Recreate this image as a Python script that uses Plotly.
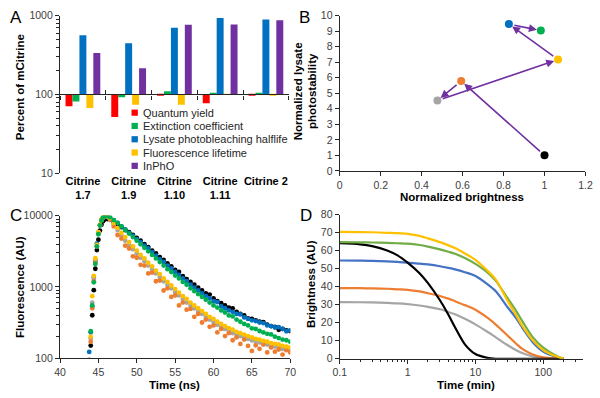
import plotly.graph_objects as go

W, H = 600, 398
FONT = "Arial, Liberation Sans, sans-serif"
AXC = "#262626"
TXC = "#404040"

# ---------------- Panel A data ----------------
variants = ["Citrine 1.7", "Citrine 1.9", "Citrine 1.10", "Citrine 1.11", "Citrine 2"]
variant_labels = ["Citrine<br>1.7", "Citrine<br>1.9", "Citrine<br>1.10", "Citrine<br>1.11", "Citrine 2"]
quantum_yield = [70.5, 51.5, 97, 77, 97]
extinction_coef = [81, 92, 110, 103, 103]
lysate_halflife = [566, 447, 704, 936, 893]
fluor_lifetime = [67, 74, 74, 99.5, 97.5]
inpho = [336, 215, 767, 774, 875]
a_names = ["Quantum yield", "Extinction coefficient", "Lysate photobleaching halflife",
           "Fluorescence lifetime", "InPhO"]
a_colors = ["#FF0000", "#00B050", "#0070C0", "#FFC000", "#7030A0"]
a_series = [quantum_yield, extinction_coef, lysate_halflife, fluor_lifetime, inpho]
a_baseline = 100

# ---------------- Panel B data ----------------
b_brightness = [1.0, 0.593, 0.477, 1.066, 0.826, 0.982]
b_photostab = [1.0, 5.79, 4.54, 7.17, 9.46, 9.04]
b_colors = ["#000000", "#ED7D31", "#A5A5A5", "#FFC000", "#0070C0", "#00B050"]

# ---------------- Panel C data ----------------
c_time = [43.8, 44.0, 44.2, 44.4, 44.6, 44.8, 45.0, 45.2, 45.4, 45.6, 45.8, 46.0, 46.2,
          46.5, 47.0, 47.5, 48.0, 48.5, 49.0, 49.5, 50.0, 50.5, 51.0, 51.5, 52.0, 52.5,
          53.0, 53.5, 54.0, 54.5, 55.0, 55.5, 56.0, 56.5, 57.0, 57.5, 58.0, 58.5, 59.0,
          59.5, 60.0, 60.5, 61.0, 61.5, 62.0, 62.5, 63.0, 63.5, 64.0, 64.5, 65.0, 65.5,
          66.0, 66.5, 67.0, 67.5, 68.0, 68.5, 69.0, 69.5, 70.0]
c_black = [50, 150, 400, 900, 1800, 3300, 4600, 6200, 7500, 8400, 8900, 9100, 9000,
           8913, 8128, 7586, 6918, 6310, 5888, 5370, 4898, 4467, 3981, 3631, 3236, 2951,
           2630, 2399, 2138, 1950, 1738, 1620, 1413, 1288, 1175, 1072, 977, 891, 813,
           780, 692, 631, 589, 550, 513, 500, 447, 417, 398, 360, 355, 339,
           324, 320, 295, 282, 275, 250, 257, 245, 240]
c_blue = [122, 230, 530, 1380, 2300, 4070, 5800, 7400, 8700, 9400, 9800, 9950, 9800,
          9550, 8710, 7943, 7079, 6457, 5754, 5248, 4677, 4266, 3802, 3467, 3090, 2754,
          2455, 2239, 1995, 1820, 1622, 1479, 1318, 1202, 1072, 977, 891, 813, 741,
          692, 631, 610, 537, 501, 468, 447, 417, 410, 372, 355, 339, 331,
          316, 310, 288, 282, 269, 272, 257, 238, 245]
c_gray = [95, 190, 600, 1300, 2400, 3800, 5800, 7400, 8700, 9500, 9900, 10000, 9800,
          9120, 7586, 6310, 5248, 4467, 3890, 3388, 2951, 2570, 2291, 1995, 1778, 1549,
          1380, 1202, 1072, 955, 851, 759, 676, 603, 550, 501, 457, 417, 380,
          347, 324, 295, 275, 257, 240, 224, 214, 204, 195, 186, 178, 170,
          166, 158, 155, 148, 145, 141, 135, 132, 129]
c_orange = [70, 170, 500, 1200, 2200, 3700, 5600, 7300, 8600, 9400, 9800, 9950, 9700,
            8913, 7079, 5370, 4786, 3802, 3467, 2692, 2570, 2042, 1995, 1549, 1585, 1202,
            1230, 891, 955, 724, 759, 550, 603, 479, 490, 380, 417, 316, 347,
            275, 288, 229, 257, 204, 224, 178, 195, 158, 182, 148, 126, 151,
            135, 155, 120, 141, 123, 132, 112, 129, 120]
c_yellow = [80, 200, 740, 1430, 2530, 3900, 5900, 7500, 8800, 9500, 9900, 10000, 9800,
            9333, 7943, 6761, 5754, 5012, 4266, 3715, 3236, 2818, 2512, 2188, 1950, 1698,
            1514, 1318, 1175, 1047, 933, 832, 741, 676, 603, 550, 501, 457, 417,
            380, 355, 324, 302, 282, 263, 251, 234, 224, 214, 204, 195, 186,
            182, 174, 170, 162, 158, 155, 148, 145, 141]
c_green = [90, 238, 550, 1160, 2100, 3700, 5500, 7300, 8600, 9400, 9800, 10000, 9900,
           9550, 8710, 7943, 7079, 6310, 5623, 5012, 4467, 3981, 3548, 3162, 2818, 2512,
           2239, 1995, 1778, 1622, 1445, 1318, 1175, 1072, 955, 871, 794, 724, 661,
           603, 550, 513, 468, 437, 398, 385, 347, 324, 302, 288, 262, 257,
           240, 229, 219, 215, 200, 191, 182, 178, 170]
c_series = [(c_black, "#000000"), (c_blue, "#0070C0"), (c_gray, "#A5A5A5"),
            (c_orange, "#ED7D31"), (c_yellow, "#FFC000"), (c_green, "#00B050")]

# ---------------- Panel D data ----------------
d_time = [0.1, 0.2, 0.3, 0.5, 0.7, 1, 1.5, 2, 3, 4, 5, 7, 10, 15, 20, 30, 40, 50, 70, 100, 150, 200]
d_yellow = [70.5, 70.4, 70.3, 70.0, 69.8, 69.4, 68.3, 66.9, 64.8, 63.0, 61.5, 58.5, 55.0, 49.0,
            44.0, 32.0, 24.0, 17.8, 10.2, 4.8, 1.5, 0]
d_green = [64.8, 64.7, 64.6, 64.4, 64.2, 64.0, 63.2, 62.3, 60.8, 59.5, 58.4, 56.0, 52.7, 48.0,
           43.3, 33.5, 26.5, 20.5, 12.0, 6.2, 2.0, 0]
d_blue = [54.6, 54.5, 54.4, 54.1, 53.8, 53.4, 52.9, 52.4, 51.4, 50.5, 49.7, 48.1, 46.0, 41.5,
          37.5, 28.5, 22.5, 16.8, 9.2, 4.0, 1.2, 0]
d_orange = [39.3, 39.2, 39.1, 38.9, 38.6, 38.3, 37.4, 36.4, 34.9, 33.4, 32.0, 29.8, 27.2, 22.8,
            19.0, 12.8, 8.3, 5.3, 2.3, 0.8, 0.2, 0]
d_gray = [31.5, 31.4, 31.3, 31.0, 30.8, 30.4, 29.6, 28.8, 27.5, 26.0, 24.7, 22.2, 19.1, 15.0,
          11.9, 7.5, 4.7, 3.0, 1.3, 0.4, 0.1, 0]
d_black = [64.2, 63.6, 62.6, 60.2, 57.6, 53.4, 47.5, 42.0, 32.5, 24.5, 17.5, 8.0, 2.6, 0.5,
           0, 0, 0, 0, 0, 0, 0, 0]
d_series = [(d_gray, "#A5A5A5"), (d_orange, "#ED7D31"), (d_blue, "#4472C4"),
            (d_black, "#000000"), (d_green, "#70AD47"), (d_yellow, "#FFC000")]


def px(x):
    return x / W


def py(y):
    return 1 - y / H


fig = go.Figure()

# Panel A bars (drawn from the 100 % baseline)
for vals, name, col in zip(a_series, a_names, a_colors):
    fig.add_trace(go.Bar(x=variants, y=[v - a_baseline for v in vals], base=a_baseline,
                         name=name, marker=dict(color=col, line=dict(width=0)),
                         xaxis="x", yaxis="y", showlegend=False))
# empty helper traces so the baseline axes are registered
for ax in ["x5", "x6"]:
    fig.add_trace(go.Scatter(x=[None], y=[None], xaxis=ax, yaxis="y", mode="markers",
                             showlegend=False, hoverinfo="skip"))

# Panel B
for i in range(len(b_brightness)):
    fig.add_trace(go.Scatter(x=[b_brightness[i]], y=[b_photostab[i]], mode="markers",
                             marker=dict(color=b_colors[i], size=8),
                             xaxis="x2", yaxis="y2", showlegend=False))

# Panel C
for vals, col in c_series:
    fig.add_trace(go.Scatter(x=c_time, y=vals, mode="markers",
                             marker=dict(color=col, size=4.8),
                             xaxis="x3", yaxis="y3", showlegend=False))

# Panel D
for vals, col in d_series:
    fig.add_trace(go.Scatter(x=d_time, y=vals, mode="lines",
                             line=dict(color=col, width=2.2, shape="spline", smoothing=0.8),
                             xaxis="x4", yaxis="y4", showlegend=False))

axis_common = dict(showgrid=False, zeroline=False, showline=True, linecolor=AXC, linewidth=1.3,
                   ticks="outside", ticklen=4, tickcolor=AXC, tickwidth=1.2,
                   tickfont=dict(family=FONT, size=10.5, color=TXC))

a_dom_x = [px(54.3), px(288.5)]
a_dom_y = [py(172.3), py(10)]
b_dom_x = [px(340.7), px(592.3)]
b_dom_y = [py(170), py(10)]
c_dom_x = [px(54.3), px(290)]
c_dom_y = [py(363), py(216.3)]
d_dom_x = [px(340.7), px(590)]
d_dom_y = [py(363.7), py(215.3)]

baseline_pos = a_dom_y[0] + 0.5 * (a_dom_y[1] - a_dom_y[0])

fig.update_layout(
    width=W, height=H, margin=dict(l=0, r=0, t=0, b=0),
    paper_bgcolor="white", plot_bgcolor="white", showlegend=False,
    barmode="group", bargap=0.24, bargroupgap=0,
    font=dict(family=FONT, color=TXC),
    xaxis=dict(domain=a_dom_x, anchor="y", type="category", categoryorder="array",
               categoryarray=variants, tickvals=variants, ticktext=["<b>%s</b>" % t for t in variant_labels],
               showline=False, ticks="", showgrid=False, zeroline=False,
               tickfont=dict(family=FONT, size=11, color="#000000")),
    yaxis=dict(domain=a_dom_y, anchor="x", type="log", range=[1, 3],
               tickvals=[10, 100, 1000], ticktext=["10", "100", "1000"],
               minor=dict(tickvals=[20, 30, 40, 50, 60, 70, 80, 90, 200, 300, 400, 500, 600, 700, 800, 900],
                          ticks="outside", ticklen=2.5, tickcolor=AXC),
               **axis_common),
    xaxis5=dict(overlaying="x", anchor="free", position=baseline_pos, range=[-0.5, 4.5],
                tickvals=[-0.5, 0.5, 1.5, 2.5, 3.5, 4.5], showticklabels=False,
                showline=True, linecolor=AXC, linewidth=1.3, ticks="outside", ticklen=4,
                tickcolor=AXC, tickwidth=1.3, showgrid=False, zeroline=False),
    xaxis6=dict(overlaying="x", anchor="free", position=baseline_pos, range=[-0.5, 4.5],
                tickvals=[-0.5, 0.5, 1.5, 2.5, 3.5, 4.5], showticklabels=False,
                showline=False, ticks="inside", ticklen=4,
                tickcolor=AXC, tickwidth=1.3, showgrid=False, zeroline=False),
    xaxis2=dict(domain=b_dom_x, anchor="y2", range=[0, 1.2], dtick=0.2, tick0=0, **axis_common),
    yaxis2=dict(domain=b_dom_y, anchor="x2", range=[0, 10], dtick=1, tick0=0, **axis_common),
    xaxis3=dict(domain=c_dom_x, anchor="y3", range=[40, 70], dtick=5, tick0=40, **axis_common),
    yaxis3=dict(domain=c_dom_y, anchor="x3", type="log", range=[2, 4],
                tickvals=[100, 1000, 10000], ticktext=["100", "1000", "10000"],
                minor=dict(tickvals=[200, 300, 400, 500, 600, 700, 800, 900,
                                     2000, 3000, 4000, 5000, 6000, 7000, 8000, 9000],
                           ticks="outside", ticklen=2.5, tickcolor=AXC),
                **axis_common),
    xaxis4=dict(domain=d_dom_x, anchor="y4", type="log", range=[-1, 2.59],
                tickvals=[0.1, 1, 10, 100], ticktext=["0.1", "1", "10", "100"],
                minor=dict(tickvals=[0.2, 0.3, 0.4, 0.5, 0.6, 0.7, 0.8, 0.9,
                                     2, 3, 4, 5, 6, 7, 8, 9, 20, 30, 40, 50, 60, 70, 80, 90,
                                     200, 300],
                           ticks="outside", ticklen=2.5, tickcolor=AXC),
                **axis_common),
    yaxis4=dict(domain=d_dom_y, anchor="x4", range=[0, 80], dtick=10, tick0=0, **axis_common),
)

# Panel B arrows between successive variants
for i in range(len(b_brightness) - 1):
    fig.add_annotation(x=b_brightness[i + 1], y=b_photostab[i + 1],
                       ax=b_brightness[i], ay=b_photostab[i],
                       xref="x2", yref="y2", axref="x2", ayref="y2",
                       text="", showarrow=True, arrowhead=2, arrowsize=1, arrowwidth=1.6,
                       arrowcolor="#7030A0", standoff=4, startstandoff=4)

# Panel A legend (inside plot)
legend_rows_y = [110, 123.7, 137.4, 151.1, 164.8]
for name, col, yy in zip(a_names, a_colors, legend_rows_y):
    fig.add_shape(type="rect", xref="paper", yref="paper",
                  x0=px(127.5), x1=px(134), y0=py(yy + 3.2), y1=py(yy - 3.2),
                  fillcolor=col, line=dict(width=0))
    fig.add_annotation(x=px(137.5), y=py(yy), xref="paper", yref="paper", text=name,
                       showarrow=False, xanchor="left", yanchor="middle",
                       font=dict(family=FONT, size=11, color="#262626"))

# Axis titles
titles = [
    ("<b>Percent of mCitrine</b>", 14, 84, -90),
    ("<b>Normalized lysate<br>photostability</b>", 305, 88, -90),
    ("<b>Normalized brightness</b>", 466, 197, 0),
    ("<b>Fluorescence (AU)</b>", 14, 290, -90),
    ("<b>Time (ns)</b>", 172, 391, 0),
    ("<b>Brightness (AU)</b>", 312, 287, -90),
    ("<b>Time (min)</b>", 470, 391, 0),
]
for txt, xx, yy, ang in titles:
    fig.add_annotation(x=px(xx), y=py(yy), xref="paper", yref="paper", text=txt,
                       showarrow=False, textangle=ang, xanchor="center", yanchor="middle",
                       font=dict(family=FONT, size=11.5, color="#000000"))

# Panel letters
for letter, xx, yy in [("A", 1, 0), ("B", 297, 0), ("C", 1, 204), ("D", 298, 204)]:
    fig.add_annotation(x=px(xx), y=py(yy), xref="paper", yref="paper", text=letter,
                       showarrow=False, xanchor="left", yanchor="top",
                       font=dict(family=FONT, size=17, color="#000000"))

fig.write_html("out.html", config={"displayModeBar": False},
               post_script="document.body.style.margin='0';document.body.style.overflow='hidden';")
